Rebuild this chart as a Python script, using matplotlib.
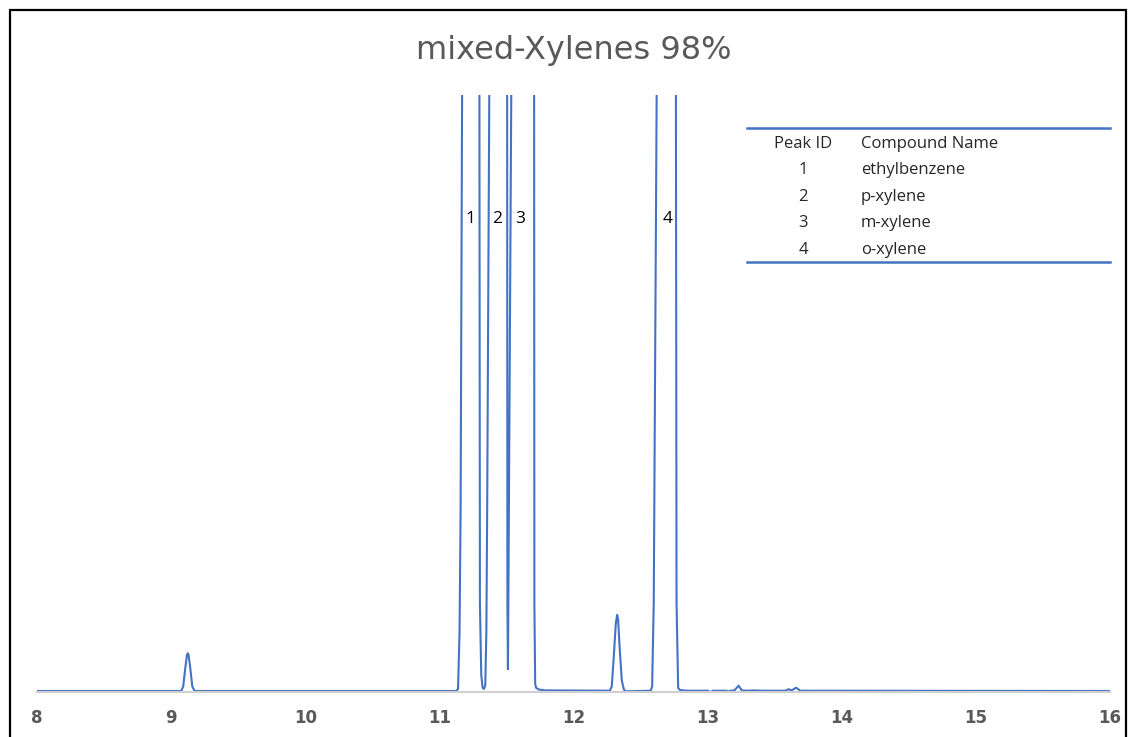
import matplotlib.pyplot as plt
from matplotlib.patches import Rectangle

# chromatogram trace (time in min, signal in % of visible height)
time = [8.00, 9.075, 9.09, 9.105, 9.118, 9.124, 9.13, 9.143, 9.158, 9.175,
        11.125, 11.139, 11.150, 11.158, 11.170, 11.23, 11.298, 11.302, 11.312, 11.322,
        11.333, 11.342, 11.350, 11.356, 11.373, 11.44, 11.505, 11.507, 11.511, 11.514,
        11.537, 11.62, 11.706, 11.708, 11.714, 11.72, 11.74, 11.79, 12.27, 12.285,
        12.300, 12.315, 12.325, 12.332, 12.345, 12.360, 12.375, 12.39, 12.575, 12.586,
        12.598, 12.621, 12.69, 12.763, 12.768, 12.780, 12.795, 12.85, 13.00, 13.02,
        13.04, 13.14, 13.155, 13.17, 13.20, 13.23, 13.255, 13.30, 13.35, 13.40,
        13.58, 13.603, 13.625, 13.66, 13.69, 16.00]
signal = [0.25, 0.25, 1.0, 4.0, 6.3, 6.56, 6.3, 4.0, 1.0, 0.25,
          0.25, 0.6, 10, 30, 105, 250, 105, 15, 3, 0.8,
          0.6, 1.2, 10, 30, 105, 220, 105, 15, 3.9, 15,
          105, 300, 105, 15, 1.5, 0.8, 0.5, 0.35, 0.3, 1.0,
          6.0, 11.5, 13.0, 12.3, 7.0, 2.0, 0.5, 0.2, 0.3, 1.0,
          15, 105, 250, 105, 15, 0.75, 0.4, 0.3, 0.3, 0.05,
          0.3, 0.3, 0.15, 0.3, 0.35, 1.14, 0.35, 0.3, 0.35, 0.3,
          0.3, 0.55, 0.35, 0.8, 0.3, 0.25]

peak_labels = ["1", "2", "3", "4"]
peak_label_x = [11.23, 11.43, 11.60, 12.70]

peak_ids = ["1", "2", "3", "4"]
compounds = ["ethylbenzene", "p-xylene", "m-xylene", "o-xylene"]

blue = "#4472C4"
grey = "#595959"

fig = plt.figure(figsize=(11.33, 7.37), dpi=100)
ax = fig.add_axes([0.03266, 0.0604, 0.9471, 0.8107])

ax.plot(time, signal, color=blue, lw=1.5, solid_joinstyle="round")
ax.set_xlim(8, 16)
ax.set_ylim(0, 100)
ax.set_xticks(range(8, 17))
ax.set_yticks([])
for s in ["top", "left", "right"]:
    ax.spines[s].set_visible(False)
ax.spines["bottom"].set_color("#D0D0D0")
ax.spines["bottom"].set_linewidth(1.5)
ax.tick_params(axis="x", length=0, pad=12, labelsize=12, labelcolor=grey)
for lab in ax.get_xticklabels():
    lab.set_fontweight("bold")
    lab.set_fontfamily("DejaVu Sans")

# peak numbers
for lab, px in zip(peak_labels, peak_label_x):
    ax.text(px, 79.3, lab, ha="center", va="center", fontsize=12.5,
            family="Open Sans", color="black")

fig.suptitle("mixed-Xylenes 98%", x=0.506, y=0.953, fontsize=23,
             family="DejaVu Sans", color=grey)

# peak table
tx0, tx1 = 747 / 1133, 1110 / 1133
top_y, bot_y = 1 - 128 / 737, 1 - 262 / 737
fig.add_artist(plt.Line2D([tx0, tx1], [top_y, top_y], color=blue, lw=1.8))
fig.add_artist(plt.Line2D([tx0, tx1], [bot_y, bot_y], color=blue, lw=1.8))
rows_y = [144, 170, 197, 223, 250]
fig.text(803 / 1133, 1 - rows_y[0] / 737, "Peak ID", ha="center", va="center",
         fontsize=12, family="Open Sans", color="#262626")
fig.text(861 / 1133, 1 - rows_y[0] / 737, "Compound Name", ha="left", va="center",
         fontsize=12, family="Open Sans", color="#262626")
for pid, name, ry in zip(peak_ids, compounds, rows_y[1:]):
    fig.text(803 / 1133, 1 - ry / 737, pid, ha="center", va="center",
             fontsize=12, family="Open Sans", color="#262626")
    fig.text(861 / 1133, 1 - ry / 737, name, ha="left", va="center",
             fontsize=12, family="Open Sans", color="#262626")

# frame around the picture
fig.add_artist(Rectangle((10 / 1133, -0.02), 1116 / 1133, 1 - 10 / 737 + 0.02,
                         transform=fig.transFigure, fill=False,
                         edgecolor="black", lw=1.6))

fig.savefig("out.png", dpi=100)
